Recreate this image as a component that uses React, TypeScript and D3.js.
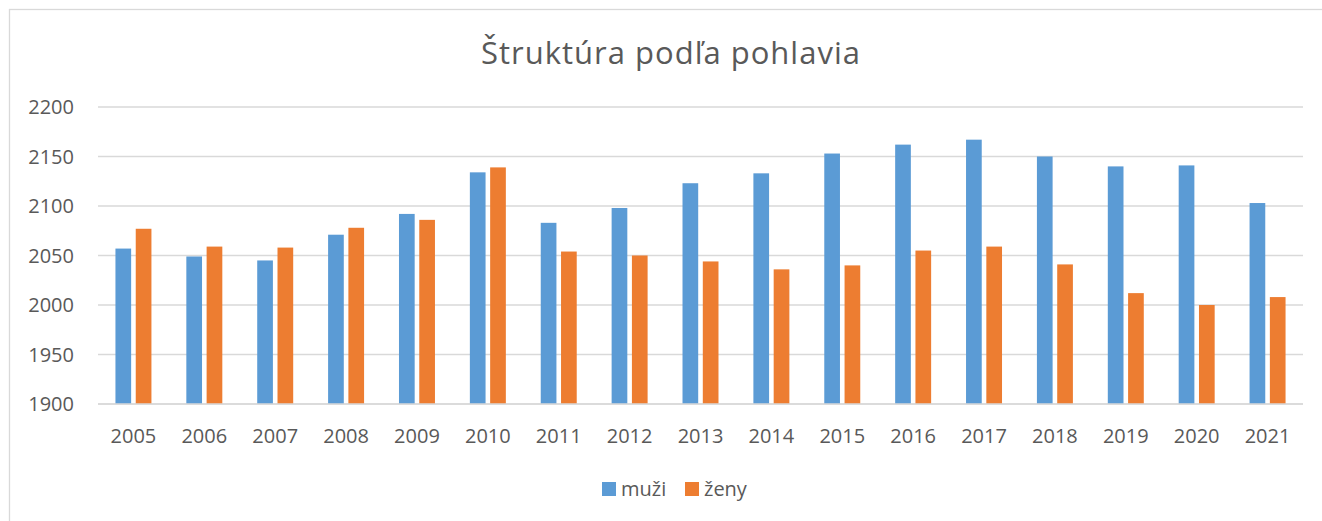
import React from "react";
import * as d3 from "d3";

const years = ["2005","2006","2007","2008","2009","2010","2011","2012","2013","2014","2015","2016","2017","2018","2019","2020","2021"];
const muzi = [2057,2049,2045,2071,2092,2134,2083,2098,2123,2133,2153,2162,2167,2150,2140,2141,2103];
const zeny = [2077,2059,2058,2078,2086,2139,2054,2050,2044,2036,2040,2055,2059,2041,2012,2000,2008];
const yTicks = [1900,1950,2000,2050,2100,2150,2200];
const seriesNames = ["muži","ženy"];
const colors = ["#5b9bd5","#ed7d31"];
const title = "Štruktúra podľa pohlavia";

const W = 1322, H = 521;
const FONT = "'Open Sans', sans-serif";

export default function App() {
  const x = d3.scaleBand<string>().domain(years).range([98, 1303]).paddingInner(0).paddingOuter(0);
  const xi = d3.scaleBand<string>().domain(seriesNames).range([0, x.bandwidth()]).paddingInner(0.2266).paddingOuter(0.86);
  const y = d3.scaleLinear().domain([1900, 2200]).range([404, 107]);
  const data = [muzi, zeny];

  return (
    <div style={{ position: "fixed", left: 0, top: 0 }}>
      <svg width={W} height={H} style={{ display: "block", background: "#fff" }}>
        <rect x={9.5} y={9.5} width={1400} height={600} fill="#fff" stroke="#d9d9d9" strokeWidth={1.3} />
        <text x={671} y={64} textAnchor="middle" fontFamily={FONT} fontSize={31} letterSpacing={1} fill="#595959">{title}</text>
        {yTicks.map((t) => (
          <g key={t}>
            <line x1={98} x2={1303} y1={y(t)} y2={y(t)} stroke="#d9d9d9" strokeWidth={1.3} />
            <text x={74} y={y(t)} dy="0.35em" textAnchor="end" fontFamily={FONT} fontSize={20} fill="#595959">{t}</text>
          </g>
        ))}
        {data.map((vals, si) => (
          <g key={si} fill={colors[si]}>
            {vals.map((v, i) => (
              <rect key={i}
                x={(x(years[i]) as number) + (xi(seriesNames[si]) as number)}
                y={y(v)} width={xi.bandwidth()} height={y(1900) - y(v)} />
            ))}
          </g>
        ))}
        <line x1={98} x2={1303} y1={y(1900)} y2={y(1900)} stroke="#d9d9d9" strokeWidth={1.3} />
        {years.map((yr) => (
          <text key={yr} x={(x(yr) as number) + x.bandwidth() / 2} y={443} textAnchor="middle" fontFamily={FONT} fontSize={20} fill="#595959">{yr}</text>
        ))}
        <g>
          <rect x={602} y={482} width={14} height={14} fill={colors[0]} />
          <text x={621} y={495.5} fontFamily={FONT} fontSize={20} fill="#595959">{seriesNames[0]}</text>
          <rect x={685} y={482} width={14} height={14} fill={colors[1]} />
          <text x={704} y={495.5} fontFamily={FONT} fontSize={20} fill="#595959">{seriesNames[1]}</text>
        </g>
      </svg>
    </div>
  );
}
